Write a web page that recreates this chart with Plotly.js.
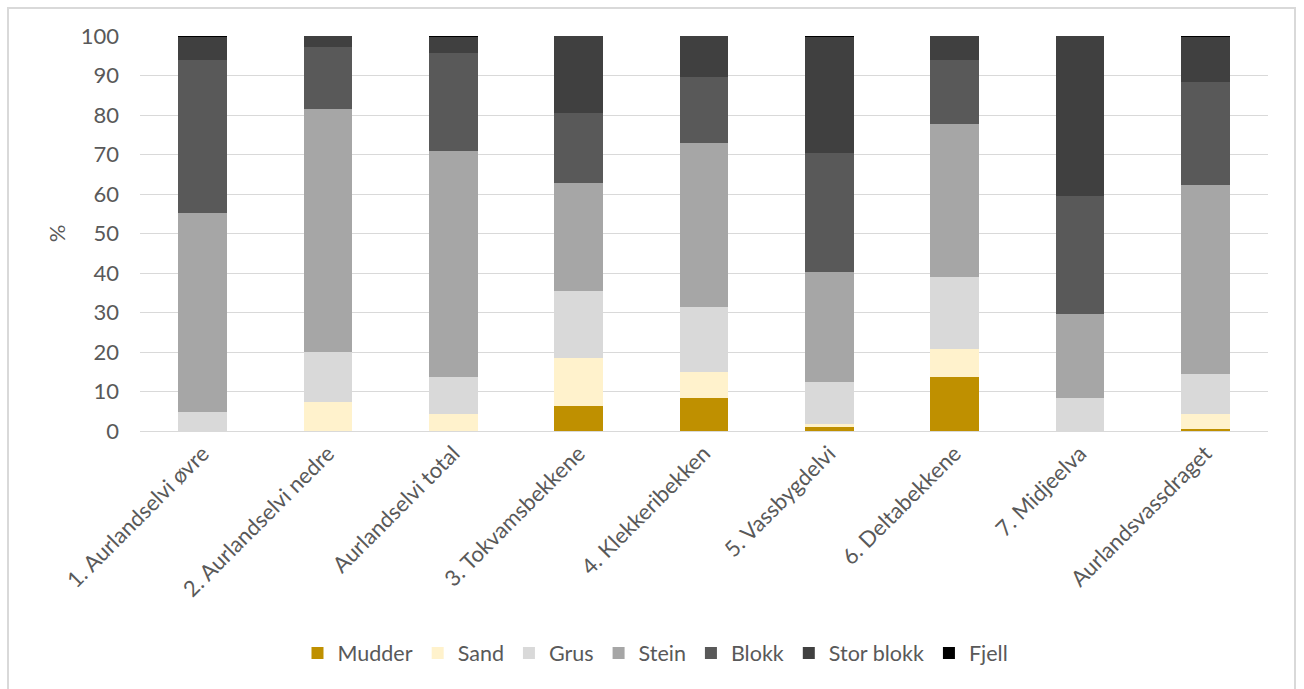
<!DOCTYPE html>
<html>
<head>
<meta charset="utf-8">
<script src="https://cdn.plot.ly/plotly-3.0.1.min.js"></script>
<style>
  html, body { margin: 0; padding: 0; background: #fff; }
  #frame { position: absolute; left: 7px; top: 7px; width: 1289px; height: 700px; border: 2px solid #D9D9D9; box-sizing: border-box; pointer-events: none; z-index: 5; }
  #chart { width: 1304px; height: 689px; }
</style>
</head>
<body>
<div id="frame"></div>
<div id="chart"></div>
<script>
// Substrate composition (%) per river section
const categories = [
  "1. Aurlandselvi øvre",
  "2. Aurlandselvi nedre",
  "Aurlandselvi total",
  "3. Tokvamsbekkene",
  "4. Klekkeribekken",
  "5. Vassbygdelvi",
  "6. Deltabekkene",
  "7. Midjeelva",
  "Aurlandsvassdraget"
];

const mudder    = [0,    0,    0,    6.3,  8.4,  0.9,  13.7, 0,    0.5];
const sand      = [0,    7.4,  4.2,  12.3, 6.6,  0.8,  7.1,  0,    3.7];
const grus      = [4.9,  12.7, 9.5,  16.9, 16.5, 10.6, 18.3, 8.4,  10.2];
const stein     = [50.3, 61.5, 57.1, 27.2, 41.3, 28.0, 38.6, 21.2, 48.0];
const blokk     = [38.7, 15.6, 24.8, 17.9, 16.9, 30.2, 16.2, 29.9, 26.0];
const storBlokk = [5.8,  2.8,  4.1,  19.4, 10.3, 29.2, 6.1,  40.5, 11.3];
const fjell     = [0.3,  0,    0.3,  0,    0,    0.3,  0,    0,    0.3];

const seriesNames  = ["Mudder", "Sand", "Grus", "Stein", "Blokk", "Stor blokk", "Fjell"];
const seriesValues = [mudder, sand, grus, stein, blokk, storBlokk, fjell];
const seriesColors = ["#BF9000", "#FFF2CC", "#D9D9D9", "#A6A6A6", "#595959", "#404040", "#000000"];

const traces = seriesNames.map((name, i) => ({
  type: "bar",
  name: name,
  x: categories,
  y: seriesValues[i],
  marker: { color: seriesColors[i], line: { width: 0 } },
  hoverinfo: "x+y+name"
}));

const textFont = { family: "Lato, 'Open Sans', sans-serif", size: 22, color: "#595959" };
const legendFont = { family: "Lato, 'Open Sans', sans-serif", size: 21.5, color: "#595959" };

const layout = {
  width: 1304,
  height: 689,
  barmode: "stack",
  bargap: 0.61,
  paper_bgcolor: "#ffffff",
  plot_bgcolor: "#ffffff",
  margin: { l: 140, r: 36, t: 36, b: 258 },
  font: textFont,
  xaxis: {
    type: "category",
    tickangle: -45,
    tickfont: textFont,
    automargin: false,
    showgrid: false,
    showline: true,
    linecolor: "#D9D9D9",
    linewidth: 1,
    ticks: "",
    ticklen: 0
  },
  yaxis: {
    range: [0, 100],
    dtick: 10,
    tickfont: textFont,
    automargin: false,
    showgrid: true,
    gridcolor: "#D9D9D9",
    gridwidth: 1,
    zeroline: true,
    zerolinecolor: "#D9D9D9",
    zerolinewidth: 1,
    ticks: "",
    ticklabelstandoff: 20,
    title: { text: "%", font: textFont, standoff: 9 }
  },
  showlegend: true,
  legend: {
    orientation: "h",
    traceorder: "normal",
    x: 0.457,
    xanchor: "center",
    y: -0.562,
    yanchor: "middle",
    font: legendFont,
    itemwidth: 30
  }
};

Plotly.newPlot("chart", traces, layout, { displayModeBar: false, staticPlot: true });
</script>
</body>
</html>
